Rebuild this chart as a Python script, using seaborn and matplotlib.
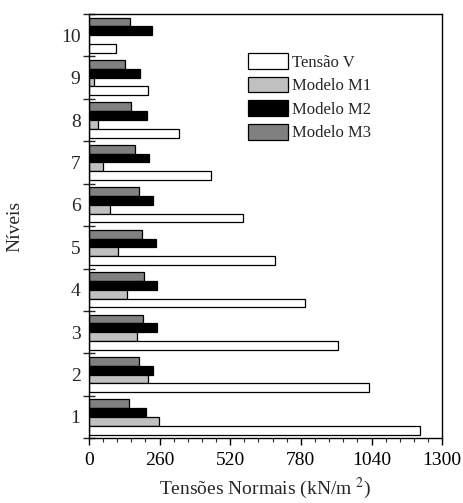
import matplotlib
matplotlib.use("Agg")
import matplotlib.pyplot as plt
import numpy as np
import pandas as pd
import seaborn as sns

# niveis 1..10
niveis = [1, 2, 3, 4, 5, 6, 7, 8, 9, 10]
tensao_v = [1219, 1032, 916, 796, 685, 566, 449, 333, 219, 101]
modelo_m1 = [259, 218, 176, 139, 108, 77, 52, 33, 17, 0]
modelo_m2 = [209, 235, 249, 251, 247, 235, 222, 212, 189, 231]
modelo_m3 = [148, 185, 200, 204, 197, 185, 171, 156, 134, 152]

series = {
    "Tensão V": tensao_v,
    "Modelo M1": modelo_m1,
    "Modelo M2": modelo_m2,
    "Modelo M3": modelo_m3,
}
cores = {"Tensão V": "white", "Modelo M1": "#c0c0c0",
         "Modelo M2": "black", "Modelo M3": "#808080"}

rows = []
for nome, vals in series.items():
    for n, v in zip(niveis, vals):
        rows.append({"Nivel": str(n), "Serie": nome, "Valor": v})
df = pd.DataFrame(rows)

sns.set_theme(style="ticks")
plt.rcParams["font.family"] = ["Liberation Serif", "DejaVu Serif"]
plt.rcParams["mathtext.fontset"] = "stix"

fig, ax = plt.subplots(figsize=(4.63, 5.03), dpi=100)
fig.subplots_adjust(left=0.192, right=0.955, top=0.972, bottom=0.129)

ordem = [str(n) for n in reversed(niveis)]
hue_ordem = ["Modelo M3", "Modelo M2", "Modelo M1", "Tensão V"]
sns.barplot(data=df, y="Nivel", x="Valor", hue="Serie", order=ordem,
            hue_order=hue_ordem, palette=cores, orient="h", width=0.83,
            edgecolor="black", linewidth=0.9, saturation=1, ax=ax)

ax.set_xlim(0, 1300)
ax.set_ylim(9.5, -0.5)
ax.set_xticks(np.arange(0, 1301, 260))
ax.set_xticks(np.arange(0, 1301, 52), minor=True)
ax.tick_params(axis="x", which="major", direction="out", length=5, width=1,
               labelsize=14, colors="black", pad=5)
ax.tick_params(axis="x", which="minor", direction="out", length=3, width=0.8)
ax.tick_params(axis="x", top=False)

ax.set_yticks(np.arange(len(ordem)))
ax.set_yticklabels(ordem)
ax.set_yticks(np.arange(-0.5, 10, 1), minor=True)
ax.tick_params(axis="y", which="major", length=0, labelsize=14, pad=6)
ax.tick_params(axis="y", which="minor", direction="inout", length=8, width=1)

for s in ax.spines.values():
    s.set_visible(True)
    s.set_color("black")
    s.set_linewidth(1)

ax.set_xlabel("Tensões Normais (kN/m $^{2}$)", fontsize=14, labelpad=5)
ax.set_ylabel("Níveis", fontsize=14, labelpad=27)

handles, labels = ax.get_legend_handles_labels()
idx = [labels.index(l) for l in series.keys()]
ax.legend([handles[i] for i in idx], [labels[i] for i in idx],
          loc="upper left", bbox_to_anchor=(0.45, 0.908), frameon=False,
          fontsize=12, handlelength=2.4, handleheight=1.08,
          labelspacing=0.36, handletextpad=0.25, borderpad=0, borderaxespad=0)

fig.savefig("out.png", dpi=100)
